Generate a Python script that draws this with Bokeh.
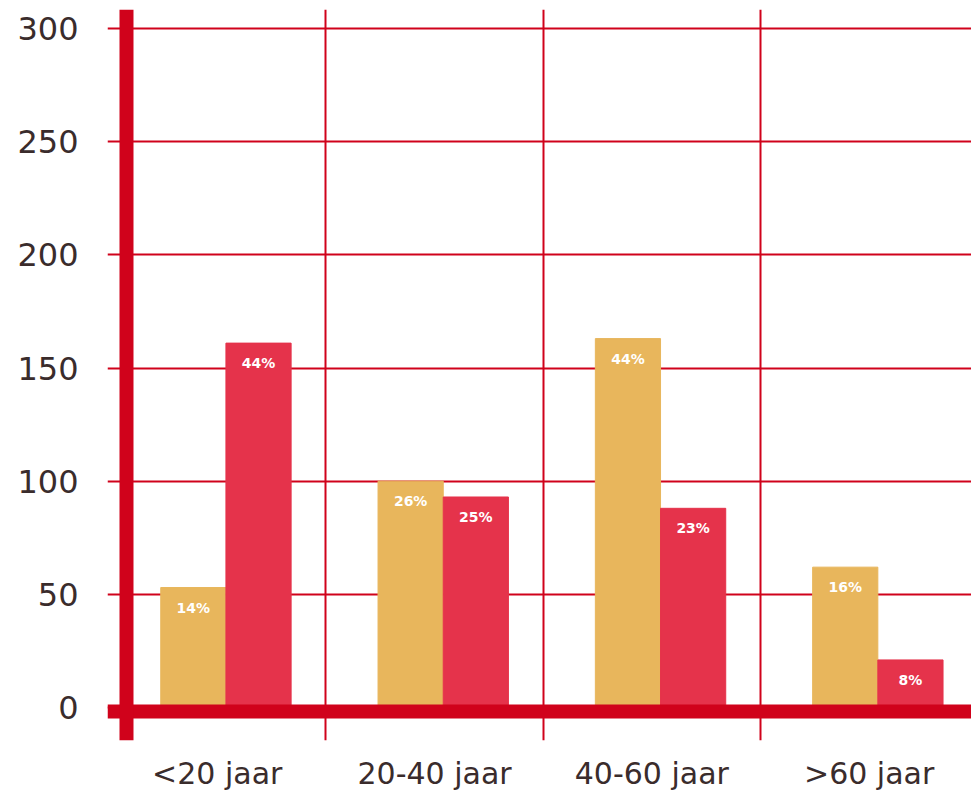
from bokeh.plotting import figure
from bokeh.models import Range1d, FixedTicker, Span, ColumnDataSource
from bokeh.embed import file_html
from bokeh.resources import INLINE
from bokeh.core.properties import value

categories = ["<20 jaar", "20-40 jaar", "40-60 jaar", ">60 jaar"]
gold_values = [53, 100, 163, 62]
red_values = [161, 93, 88, 21]
gold_labels = ["14%", "26%", "44%", "16%"]
red_labels = ["44%", "25%", "23%", "8%"]
y_ticks = [0, 50, 100, 150, 200, 250, 300]

GOLD = "#E8B65C"
RED_BAR = "#E5334B"
GRID_RED = "#D0021B"
TEXT = "#3a2c2c"
FONT = "DejaVu Sans"

centers = [i + 0.5 for i in range(len(categories))]
gold_x = [c - 0.11 for c in centers]
red_x = [c + 0.19 for c in centers]

gold_src = ColumnDataSource(dict(x=gold_x, top=gold_values, label=gold_labels))
red_src = ColumnDataSource(dict(x=red_x, top=red_values, label=red_labels))

p = figure(width=971, height=793, output_backend="svg", toolbar_location=None,
           x_range=Range1d(-0.005, 3.971), y_range=Range1d(-14.6, 308.42),
           min_border_left=107, min_border_right=0, min_border_top=9, min_border_bottom=50)
p.outline_line_color = None
p.background_fill_color = "white"

p.vbar(x="x", top="top", bottom=0, width=0.3, color=GOLD, source=gold_src)
p.vbar(x="x", top="top", bottom=0, width=0.3, color=RED_BAR, source=red_src)

for src in (gold_src, red_src):
    p.text(x="x", y="top", text="label", source=src, text_color="white",
           text_font=value(FONT), text_font_style="bold", text_font_size="14px",
           text_align="center", text_baseline="middle", y_offset=20)

# axes
p.yaxis.ticker = FixedTicker(ticks=y_ticks)
p.yaxis.axis_line_color = None
p.yaxis.major_tick_line_color = None
p.yaxis.minor_tick_line_color = None
p.yaxis.major_label_standoff = 23
p.yaxis.major_label_text_font = FONT
p.yaxis.major_label_text_font_size = "32px"
p.yaxis.major_label_text_color = TEXT

p.xaxis.ticker = FixedTicker(ticks=centers)
p.xaxis.major_label_overrides = {c: lab for c, lab in zip(centers, categories)}
p.xaxis.axis_line_color = None
p.xaxis.major_tick_line_color = None
p.xaxis.minor_tick_line_color = None
p.xaxis.major_label_standoff = 9
p.xaxis.major_label_text_font = FONT
p.xaxis.major_label_text_font_size = "30px"
p.xaxis.major_label_text_color = TEXT

# grids
p.ygrid.ticker = FixedTicker(ticks=y_ticks)
p.ygrid.grid_line_color = GRID_RED
p.ygrid.grid_line_width = 2
p.xgrid.ticker = FixedTicker(ticks=[1, 2, 3])
p.xgrid.grid_line_color = GRID_RED
p.xgrid.grid_line_width = 2

# thick axis lines
p.add_layout(Span(location=-1.77, dimension="width", line_color=GRID_RED, line_width=14))
p.add_layout(Span(location=0.0824, dimension="height", line_color=GRID_RED, line_width=14))

open("out.html", "w").write(file_html(p, INLINE))
